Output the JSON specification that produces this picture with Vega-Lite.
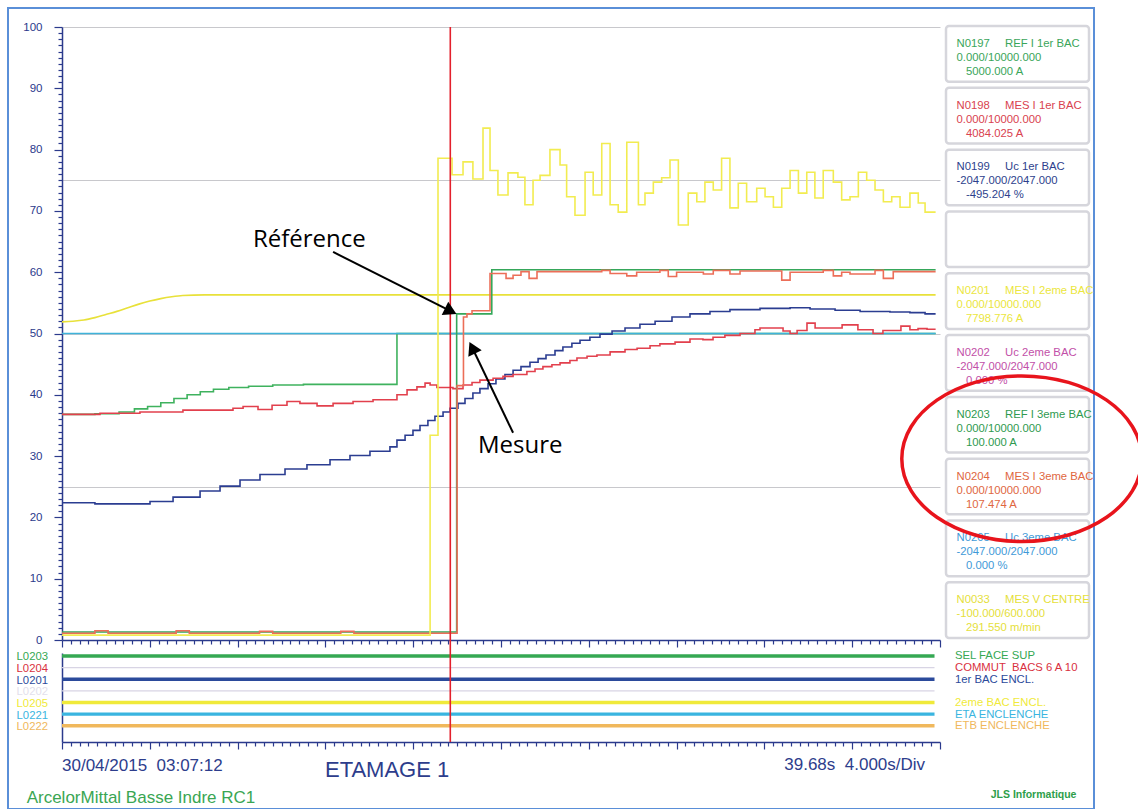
{
"$schema": "https://vega.github.io/schema/vega-lite/v6.json",
"width": 1086,
"height": 801,
"padding": {"left": 8, "top": 8, "right": 44, "bottom": 0},
"autosize": {"type": "none"},
"background": "white",
"config": {"view": {"stroke": "#5a8fd8", "strokeWidth": 2}, "font": "Liberation Sans"},
"datasets": {
"series": [
{"code":"N0033","t":0,"v":51.9},{"code":"N0033","t":0.5,"v":52.0},{"code":"N0033","t":1.0,"v":52.2},{"code":"N0033","t":1.5,"v":52.6},{"code":"N0033","t":2.0,"v":53.1},{"code":"N0033","t":2.5,"v":53.6},{"code":"N0033","t":3.0,"v":54.2},{"code":"N0033","t":3.5,"v":54.8},{"code":"N0033","t":4.0,"v":55.3},{"code":"N0033","t":4.5,"v":55.7},{"code":"N0033","t":5.0,"v":56.0},{"code":"N0033","t":5.5,"v":56.2},{"code":"N0033","t":6.5,"v":56.3},{"code":"N0033","t":39.8,"v":56.3},
{"code":"N0197","t":0,"v":36.8},{"code":"N0197","t":1.5,"v":36.9},{"code":"N0197","t":2.6,"v":37.2},{"code":"N0197","t":3.3,"v":37.7},{"code":"N0197","t":3.9,"v":38.1},{"code":"N0197","t":4.5,"v":38.7},{"code":"N0197","t":5.1,"v":39.4},{"code":"N0197","t":5.7,"v":40.0},{"code":"N0197","t":6.3,"v":40.5},{"code":"N0197","t":6.9,"v":40.9},{"code":"N0197","t":7.6,"v":41.2},{"code":"N0197","t":8.5,"v":41.4},{"code":"N0197","t":9.6,"v":41.6},{"code":"N0197","t":11.0,"v":41.7},{"code":"N0197","t":15.26,"v":50.0},{"code":"N0197","t":39.8,"v":50.0},
{"code":"N0205","t":0,"v":50.0},{"code":"N0205","t":39.8,"v":50.0},
{"code":"N0199","t":0,"v":22.4},{"code":"N0199","t":1.5,"v":22.2},{"code":"N0199","t":2.96,"v":22.2},{"code":"N0199","t":4.01,"v":22.6},{"code":"N0199","t":5.06,"v":23.3},{"code":"N0199","t":6.29,"v":24.3},{"code":"N0199","t":7.2,"v":25.1},{"code":"N0199","t":8.11,"v":26.1},{"code":"N0199","t":9.02,"v":27.0},{"code":"N0199","t":10.16,"v":27.9},{"code":"N0199","t":11.16,"v":28.6},{"code":"N0199","t":12.21,"v":29.4},{"code":"N0199","t":13.12,"v":30.1},{"code":"N0199","t":14.03,"v":30.8},{"code":"N0199","t":14.94,"v":31.5},{"code":"N0199","t":15.26,"v":32.6},{"code":"N0199","t":15.63,"v":33.4},{"code":"N0199","t":15.99,"v":34.2},{"code":"N0199","t":16.31,"v":35.0},{"code":"N0199","t":16.67,"v":35.8},{"code":"N0199","t":16.99,"v":36.5},{"code":"N0199","t":17.36,"v":37.2},{"code":"N0199","t":17.68,"v":37.8},{"code":"N0199","t":18.04,"v":38.6},{"code":"N0199","t":18.36,"v":39.4},{"code":"N0199","t":18.72,"v":40.3},{"code":"N0199","t":19.04,"v":41.0},{"code":"N0199","t":19.41,"v":41.8},{"code":"N0199","t":19.77,"v":42.6},{"code":"N0199","t":20.18,"v":43.3},{"code":"N0199","t":20.55,"v":44.0},{"code":"N0199","t":20.91,"v":44.6},{"code":"N0199","t":21.32,"v":45.3},{"code":"N0199","t":21.69,"v":45.9},{"code":"N0199","t":22.05,"v":46.5},{"code":"N0199","t":22.46,"v":47.2},{"code":"N0199","t":22.82,"v":47.8},{"code":"N0199","t":23.23,"v":48.4},{"code":"N0199","t":23.6,"v":48.9},{"code":"N0199","t":24.05,"v":49.4},{"code":"N0199","t":24.51,"v":49.9},{"code":"N0199","t":25.06,"v":50.4},{"code":"N0199","t":25.65,"v":50.9},{"code":"N0199","t":26.33,"v":51.5},{"code":"N0199","t":27.02,"v":52.0},{"code":"N0199","t":27.79,"v":52.7},{"code":"N0199","t":28.61,"v":53.2},{"code":"N0199","t":29.52,"v":53.6},{"code":"N0199","t":30.43,"v":53.9},{"code":"N0199","t":31.8,"v":54.1},{"code":"N0199","t":33.17,"v":54.2},{"code":"N0199","t":34.08,"v":54.0},{"code":"N0199","t":35.22,"v":53.8},{"code":"N0199","t":36.36,"v":53.6},{"code":"N0199","t":37.72,"v":53.5},{"code":"N0199","t":38.63,"v":53.4},{"code":"N0199","t":39.32,"v":53.2},{"code":"N0199","t":39.8,"v":53.2},
{"code":"N0198","t":0,"v":36.8},{"code":"N0198","t":1.73,"v":37.0},{"code":"N0198","t":3.55,"v":37.2},{"code":"N0198","t":5.51,"v":37.5},{"code":"N0198","t":7.79,"v":37.8},{"code":"N0198","t":8.25,"v":38.1},{"code":"N0198","t":8.93,"v":37.6},{"code":"N0198","t":9.57,"v":38.3},{"code":"N0198","t":10.25,"v":38.9},{"code":"N0198","t":10.84,"v":38.6},{"code":"N0198","t":11.62,"v":38.2},{"code":"N0198","t":12.35,"v":38.6},{"code":"N0198","t":13.26,"v":38.9},{"code":"N0198","t":14.17,"v":39.2},{"code":"N0198","t":15.26,"v":40.0},{"code":"N0198","t":15.72,"v":40.8},{"code":"N0198","t":16.17,"v":41.3},{"code":"N0198","t":16.54,"v":41.9},{"code":"N0198","t":16.77,"v":41.6},{"code":"N0198","t":17.08,"v":41.2},{"code":"N0198","t":17.81,"v":41.0},{"code":"N0198","t":18.27,"v":41.6},{"code":"N0198","t":18.68,"v":42.0},{"code":"N0198","t":19.04,"v":42.4},{"code":"N0198","t":19.64,"v":42.7},{"code":"N0198","t":20.09,"v":43.0},{"code":"N0198","t":20.55,"v":43.3},{"code":"N0198","t":21.18,"v":43.8},{"code":"N0198","t":21.55,"v":44.2},{"code":"N0198","t":21.91,"v":44.6},{"code":"N0198","t":22.32,"v":44.9},{"code":"N0198","t":22.69,"v":45.2},{"code":"N0198","t":23.14,"v":45.6},{"code":"N0198","t":23.46,"v":46.0},{"code":"N0198","t":23.92,"v":46.3},{"code":"N0198","t":24.37,"v":46.5},{"code":"N0198","t":24.97,"v":47.0},{"code":"N0198","t":25.65,"v":47.4},{"code":"N0198","t":26.2,"v":47.6},{"code":"N0198","t":26.79,"v":48.0},{"code":"N0198","t":27.24,"v":48.3},{"code":"N0198","t":27.93,"v":48.6},{"code":"N0198","t":28.61,"v":49.1},{"code":"N0198","t":29.2,"v":49.0},{"code":"N0198","t":29.66,"v":49.4},{"code":"N0198","t":30.2,"v":49.7},{"code":"N0198","t":30.89,"v":50.0},{"code":"N0198","t":31.57,"v":50.6},{"code":"N0198","t":31.8,"v":50.9},{"code":"N0198","t":32.85,"v":50.4},{"code":"N0198","t":33.17,"v":50.0},{"code":"N0198","t":33.49,"v":50.5},{"code":"N0198","t":33.94,"v":51.7},{"code":"N0198","t":34.31,"v":50.9},{"code":"N0198","t":35.54,"v":51.4},{"code":"N0198","t":36.26,"v":50.6},{"code":"N0198","t":36.95,"v":50.0},{"code":"N0198","t":37.4,"v":50.5},{"code":"N0198","t":38.22,"v":51.2},{"code":"N0198","t":38.63,"v":50.6},{"code":"N0198","t":39.0,"v":50.8},{"code":"N0198","t":39.41,"v":50.7},{"code":"N0198","t":39.8,"v":50.7},
{"code":"N0203","t":0,"v":1.3},{"code":"N0203","t":17.98,"v":53.2},{"code":"N0203","t":19.58,"v":60.4},{"code":"N0203","t":39.8,"v":60.4},
{"code":"N0204","t":0,"v":1.1},{"code":"N0204","t":1.5,"v":1.5},{"code":"N0204","t":2.1,"v":1.1},{"code":"N0204","t":5.2,"v":1.5},{"code":"N0204","t":5.8,"v":1.1},{"code":"N0204","t":9.0,"v":1.4},{"code":"N0204","t":9.6,"v":1.1},{"code":"N0204","t":12.7,"v":1.4},{"code":"N0204","t":13.3,"v":1.1},{"code":"N0204","t":18.0,"v":41.5},{"code":"N0204","t":18.29,"v":52.7},{"code":"N0204","t":18.45,"v":53.2},{"code":"N0204","t":18.68,"v":53.7},{"code":"N0204","t":19.5,"v":59.8},{"code":"N0204","t":20.23,"v":59.0},{"code":"N0204","t":20.55,"v":59.5},{"code":"N0204","t":20.91,"v":60.1},{"code":"N0204","t":21.28,"v":59.0},{"code":"N0204","t":21.64,"v":60.1},{"code":"N0204","t":24.59,"v":60.3},{"code":"N0204","t":24.97,"v":59.8},{"code":"N0204","t":25.73,"v":59.4},{"code":"N0204","t":26.18,"v":60.0},{"code":"N0204","t":27.24,"v":60.3},{"code":"N0204","t":27.62,"v":59.3},{"code":"N0204","t":28.0,"v":60.0},{"code":"N0204","t":29.22,"v":59.7},{"code":"N0204","t":29.67,"v":60.3},{"code":"N0204","t":30.43,"v":59.7},{"code":"N0204","t":30.89,"v":60.2},{"code":"N0204","t":32.79,"v":58.7},{"code":"N0204","t":33.17,"v":60.0},{"code":"N0204","t":34.68,"v":60.3},{"code":"N0204","t":35.14,"v":59.4},{"code":"N0204","t":35.52,"v":60.0},{"code":"N0204","t":35.9,"v":59.7},{"code":"N0204","t":37.04,"v":60.3},{"code":"N0204","t":37.42,"v":59.0},{"code":"N0204","t":37.87,"v":60.1},{"code":"N0204","t":39.8,"v":60.1},
{"code":"N0201","t":0,"v":0.8},{"code":"N0201","t":16.77,"v":33.4},{"code":"N0201","t":17.13,"v":78.6},{"code":"N0201","t":17.77,"v":75.9},{"code":"N0201","t":18.27,"v":78.0},{"code":"N0201","t":18.72,"v":75.2},{"code":"N0201","t":19.18,"v":83.5},{"code":"N0201","t":19.5,"v":76.6},{"code":"N0201","t":19.86,"v":72.6},{"code":"N0201","t":20.32,"v":76.2},{"code":"N0201","t":20.77,"v":75.5},{"code":"N0201","t":21.09,"v":71.0},{"code":"N0201","t":21.46,"v":75.0},{"code":"N0201","t":21.78,"v":75.8},{"code":"N0201","t":22.23,"v":80.0},{"code":"N0201","t":22.69,"v":77.5},{"code":"N0201","t":22.99,"v":72.3},{"code":"N0201","t":23.37,"v":69.3},{"code":"N0201","t":23.83,"v":76.3},{"code":"N0201","t":24.2,"v":72.6},{"code":"N0201","t":24.59,"v":81.0},{"code":"N0201","t":24.97,"v":71.0},{"code":"N0201","t":25.34,"v":69.8},{"code":"N0201","t":25.73,"v":81.2},{"code":"N0201","t":26.26,"v":71.0},{"code":"N0201","t":26.56,"v":72.9},{"code":"N0201","t":26.94,"v":74.7},{"code":"N0201","t":27.32,"v":75.4},{"code":"N0201","t":27.7,"v":78.3},{"code":"N0201","t":28.08,"v":67.7},{"code":"N0201","t":28.53,"v":72.9},{"code":"N0201","t":28.92,"v":71.5},{"code":"N0201","t":29.29,"v":74.7},{"code":"N0201","t":29.67,"v":73.4},{"code":"N0201","t":30.05,"v":78.6},{"code":"N0201","t":30.43,"v":70.5},{"code":"N0201","t":30.81,"v":74.5},{"code":"N0201","t":31.19,"v":71.5},{"code":"N0201","t":31.65,"v":73.7},{"code":"N0201","t":32.03,"v":72.3},{"code":"N0201","t":32.41,"v":70.6},{"code":"N0201","t":32.79,"v":73.7},{"code":"N0201","t":33.17,"v":76.6},{"code":"N0201","t":33.55,"v":72.9},{"code":"N0201","t":33.93,"v":76.3},{"code":"N0201","t":34.3,"v":72.1},{"code":"N0201","t":34.68,"v":76.6},{"code":"N0201","t":35.14,"v":74.7},{"code":"N0201","t":35.52,"v":71.8},{"code":"N0201","t":35.9,"v":72.3},{"code":"N0201","t":36.28,"v":76.3},{"code":"N0201","t":36.66,"v":75.0},{"code":"N0201","t":37.04,"v":73.4},{"code":"N0201","t":37.42,"v":71.5},{"code":"N0201","t":37.8,"v":72.3},{"code":"N0201","t":38.18,"v":70.6},{"code":"N0201","t":38.63,"v":72.9},{"code":"N0201","t":39.01,"v":71.3},{"code":"N0201","t":39.32,"v":69.8},{"code":"N0201","t":39.8,"v":69.8}
],
"digital": [
{"code":"L0203","state":"ON","t0":0,"t1":39.75,"desc":"SEL FACE SUP"},
{"code":"L0204","state":"OFF","t0":0,"t1":39.75,"desc":"COMMUT\u00a0\u00a0BACS 6 A 10"},
{"code":"L0201","state":"ON","t0":0,"t1":39.75,"desc":"1er BAC ENCL."},
{"code":"L0202","state":"OFF","t0":0,"t1":39.75,"desc":""},
{"code":"L0205","state":"ON","t0":0,"t1":39.75,"desc":"2eme BAC ENCL."},
{"code":"L0221","state":"ON","t0":0,"t1":39.75,"desc":"ETA ENCLENCHE"},
{"code":"L0222","state":"ON","t0":0,"t1":39.75,"desc":"ETB ENCLENCHE"}
],
"panel": [
{"code":"N0197","id":"N0197","name":"REF I 1er BAC","range":"0.000/10000.000","value":"5000.000 A"},
{"code":"N0198","id":"N0198","name":"MES I 1er BAC","range":"0.000/10000.000","value":"4084.025 A"},
{"code":"N0199","id":"N0199","name":"Uc 1er BAC","range":"-2047.000/2047.000","value":"-495.204 %"},
{"code":"N0200","id":"","name":"","range":"","value":""},
{"code":"N0201","id":"N0201","name":"MES I 2eme BAC","range":"0.000/10000.000","value":"7798.776 A"},
{"code":"N0202","id":"N0202","name":"Uc 2eme BAC","range":"-2047.000/2047.000","value":"0.000 %"},
{"code":"N0203","id":"N0203","name":"REF I 3eme BAC","range":"0.000/10000.000","value":"100.000 A"},
{"code":"N0204","id":"N0204","name":"MES I 3eme BAC","range":"0.000/10000.000","value":"107.474 A"},
{"code":"N0205","id":"N0205","name":"Uc 3eme BAC","range":"-2047.000/2047.000","value":"0.000 %"},
{"code":"N0033","id":"N0033","name":"MES V CENTRE","range":"-100.000/600.000","value":"291.550 m/min"}
],
"cursor": [{"t": 17.69}],
"notes": [
{"label":"Référence","t":8.70,"v":64.1,"t_from":12.35,"v_from":63.3,"t_to":17.71,"v_to":53.64},
{"label":"Mesure","t":18.95,"v":30.5,"t_from":20.55,"v_from":33.8,"t_to":18.69,"v_to":47.67}
],
"footer": [
{"kind":"date","label":"30/04/2015\u00a0\u00a003:07:12"},
{"kind":"title","label":"ETAMAGE 1"},
{"kind":"scale","label":"39.68s\u00a0\u00a04.000s/Div"},
{"kind":"company","label":"ArcelorMittal Basse Indre RC1"},
{"kind":"vendor","label":"JLS Informatique"}
]
},
"layer": [
{
"data": {"name": "series"},
"layer": [
{
"transform": [{"filter": "datum.code === 'N0033'"}],
"mark": {"type": "line", "strokeWidth": 1.7, "interpolate": "monotone"},
"encoding": {
"x": {"field": "t", "type": "quantitative", "scale": {"domain": [0, 40], "range": [54, 932], "nice": false, "zero": false},
"axis": {"orient": "bottom", "offset": -169, "values": [0,0.4,0.8,1.2,1.6,2,2.4,2.8,3.2,3.6,4,4.4,4.8,5.2,5.6,6,6.4,6.8,7.2,7.6,8,8.4,8.8,9.2,9.6,10,10.4,10.8,11.2,11.6,12,12.4,12.8,13.2,13.6,14,14.4,14.8,15.2,15.6,16,16.4,16.8,17.2,17.6,18,18.4,18.8,19.2,19.6,20,20.4,20.8,21.2,21.6,22,22.4,22.8,23.2,23.6,24,24.4,24.8,25.2,25.6,26,26.4,26.8,27.2,27.6,28,28.4,28.8,29.2,29.6,30,30.4,30.8,31.2,31.6,32,32.4,32.8,33.2,33.6,34,34.4,34.8,35.2,35.6,36,36.4,36.8,37.2,37.6,38,38.4,38.8,39.2,39.6,40], "labels": false, "title": null, "grid": false, "domainColor": "#2b3a8c", "domainWidth": 1.5, "tickColor": "#2b3a8c", "tickWidth": 1.2, "tickSize": {"condition": {"test": "abs(datum.value / 4 - round(datum.value / 4)) < 0.01", "value": 7}, "value": 4}}},
"y": {"field": "v", "type": "quantitative", "scale": {"domain": [0, 100], "range": [632, 19], "nice": false, "zero": false},
"axis": {"orient": "left", "offset": -54, "values": [0,1,2,3,4,5,6,7,8,9,10,11,12,13,14,15,16,17,18,19,20,21,22,23,24,25,26,27,28,29,30,31,32,33,34,35,36,37,38,39,40,41,42,43,44,45,46,47,48,49,50,51,52,53,54,55,56,57,58,59,60,61,62,63,64,65,66,67,68,69,70,71,72,73,74,75,76,77,78,79,80,81,82,83,84,85,86,87,88,89,90,91,92,93,94,95,96,97,98,99,100], "title": null, "labelExpr": "datum.value % 10 === 0 ? datum.label : ''", "labelOverlap": false, "labelBound": false, "labelFont": "Liberation Sans", "labelFontSize": 11.5, "labelColor": "#2b3a8c", "labelPadding": 12, "domainColor": "#2b3a8c", "domainWidth": 1.5, "tickColor": "#2b3a8c", "tickWidth": 1.2, "tickSize": {"condition": {"test": "datum.value % 10 === 0", "value": 8}, "value": 4}, "grid": true, "gridColor": "#c8c8cc", "gridWidth": 1, "gridOpacity": {"condition": {"test": "datum.value % 25 === 0 && datum.value > 0", "value": 1}, "value": 0}}},
"color": {"field": "code", "type": "nominal", "scale": {"domain": ["N0033","N0197","N0205","N0199","N0198","N0203","N0204","N0201"], "range": ["#e8e13a","#3fb25e","#3fb3da","#2b3d91","#e2404d","#35a75a","#ec6e58","#f2ec50"]}, "legend": null}
}
},
{
"transform": [{"filter": "datum.code !== 'N0033'"}],
"mark": {"type": "line", "strokeWidth": 1.6, "interpolate": "step-after"},
"encoding": {
"x": {"field": "t", "type": "quantitative", "scale": {"domain": [0, 40], "range": [54, 932], "nice": false, "zero": false}, "axis": null},
"y": {"field": "v", "type": "quantitative", "scale": {"domain": [0, 100], "range": [632, 19], "nice": false, "zero": false}, "axis": null},
"color": {"field": "code", "type": "nominal", "scale": {"domain": ["N0033","N0197","N0205","N0199","N0198","N0203","N0204","N0201"], "range": ["#e8e13a","#3fb25e","#3fb3da","#2b3d91","#e2404d","#35a75a","#ec6e58","#f2ec50"]}, "legend": null}
}
}
],
"resolve": {"axis": {"x": "independent", "y": "independent"}}
},
{
"data": {"name": "digital"},
"layer": [
{
"transform": [{"filter": "datum.state === 'OFF'"}],
"mark": {"type": "rule", "color": "#d8d4e4", "strokeWidth": 1.3},
"encoding": {
"x": {"field": "t0", "type": "quantitative", "scale": {"domain": [0, 40], "range": [54, 932], "nice": false, "zero": false},
"axis": {"orient": "bottom", "offset": -67, "values": [0,0.4,0.8,1.2,1.6,2,2.4,2.8,3.2,3.6,4,4.4,4.8,5.2,5.6,6,6.4,6.8,7.2,7.6,8,8.4,8.8,9.2,9.6,10,10.4,10.8,11.2,11.6,12,12.4,12.8,13.2,13.6,14,14.4,14.8,15.2,15.6,16,16.4,16.8,17.2,17.6,18,18.4,18.8,19.2,19.6,20,20.4,20.8,21.2,21.6,22,22.4,22.8,23.2,23.6,24,24.4,24.8,25.2,25.6,26,26.4,26.8,27.2,27.6,28,28.4,28.8,29.2,29.6,30,30.4,30.8,31.2,31.6,32,32.4,32.8,33.2,33.6,34,34.4,34.8,35.2,35.6,36,36.4,36.8,37.2,37.6,38,38.4,38.8,39.2,39.6,40], "labels": false, "title": null, "grid": false, "domainColor": "#2b3a8c", "domainWidth": 1.5, "tickColor": "#2b3a8c", "tickWidth": 1.2, "tickSize": {"condition": {"test": "abs(datum.value / 4 - round(datum.value / 4)) < 0.01", "value": 7}, "value": 4}}},
"x2": {"field": "t1"},
"y": {"field": "code", "type": "nominal", "scale": {"type": "point", "domain": ["L0203","L0204","L0201","L0202","L0205","L0221","L0222"], "range": [645, 734], "padding": 0.83, "align": 0.155},
"axis": {"orient": "left", "offset": -54, "labels": false, "ticks": false, "title": null, "grid": false, "domainColor": "#2b3a8c", "domainWidth": 1.5}}
}
},
{
"transform": [{"filter": "datum.state === 'ON'"}],
"mark": {"type": "rule", "strokeWidth": 3.4},
"encoding": {
"x": {"field": "t0", "type": "quantitative", "scale": {"domain": [0, 40], "range": [54, 932], "nice": false, "zero": false}, "axis": null},
"x2": {"field": "t1"},
"y": {"field": "code", "type": "nominal", "scale": {"type": "point", "domain": ["L0203","L0204","L0201","L0202","L0205","L0221","L0222"], "range": [645, 734], "padding": 0.83, "align": 0.155}, "axis": null},
"color": {"field": "code", "type": "nominal", "scale": {"domain": ["L0203","L0204","L0201","L0202","L0205","L0221","L0222"], "range": ["#35a853","#d9303e","#2b4a9b","#e3dfec","#f0ea3a","#3ab5e0","#f0b85c"]}, "legend": null}
}
},
{
"mark": {"type": "text", "align": "right", "baseline": "middle", "dx": -14, "dy": 1.5, "font": "Liberation Sans", "fontSize": 11.3},
"encoding": {
"x": {"field": "t0", "type": "quantitative", "scale": {"domain": [0, 40], "range": [54, 932], "nice": false, "zero": false}, "axis": null},
"y": {"field": "code", "type": "nominal", "scale": {"type": "point", "domain": ["L0203","L0204","L0201","L0202","L0205","L0221","L0222"], "range": [645, 734], "padding": 0.83, "align": 0.155}, "axis": null},
"text": {"field": "code"},
"color": {"field": "code", "type": "nominal", "scale": {"domain": ["L0203","L0204","L0201","L0202","L0205","L0221","L0222"], "range": ["#35a853","#d9303e","#2b4a9b","#e3dfec","#f0ea3a","#3ab5e0","#f0b85c"]}, "legend": null}
}
},
{
"mark": {"type": "text", "align": "left", "baseline": "middle", "dx": 20.5, "dy": 0.5, "font": "Liberation Sans", "fontSize": 11.3},
"encoding": {
"x": {"field": "t1", "type": "quantitative", "scale": {"domain": [0, 40], "range": [54, 932], "nice": false, "zero": false}, "axis": null},
"y": {"field": "code", "type": "nominal", "scale": {"type": "point", "domain": ["L0203","L0204","L0201","L0202","L0205","L0221","L0222"], "range": [645, 734], "padding": 0.83, "align": 0.155}, "axis": null},
"text": {"field": "desc"},
"color": {"field": "code", "type": "nominal", "scale": {"domain": ["L0203","L0204","L0201","L0202","L0205","L0221","L0222"], "range": ["#35a853","#d9303e","#2b4a9b","#e3dfec","#f0ea3a","#3ab5e0","#f0b85c"]}, "legend": null}
}
}
],
"resolve": {"axis": {"x": "independent", "y": "independent"}}
},
{
"data": {"name": "panel"},
"layer": [
{
"mark": {"type": "rect", "fill": "white", "stroke": "#d6d6dc", "strokeWidth": 2.5, "cornerRadius": 3},
"encoding": {
"x": {"datum": "box", "type": "nominal", "scale": {"domain": ["box"], "range": [938, 1081], "paddingInner": 0, "paddingOuter": 0}, "axis": null},
"y": {"field": "code", "type": "nominal", "scale": {"domain": ["N0197","N0198","N0199","N0200","N0201","N0202","N0203","N0204","N0205","N0033"], "range": [18, 630], "paddingInner": 0.1, "paddingOuter": 0}, "axis": null}
}
},
{
"mark": {"type": "text", "align": "left", "baseline": "middle", "dx": 10.5, "dy": -10, "font": "Liberation Sans", "fontSize": 11.3},
"encoding": {
"x": {"datum": "box", "type": "nominal", "bandPosition": 0, "scale": {"domain": ["box"], "range": [938, 1081], "paddingInner": 0, "paddingOuter": 0}, "axis": null},
"y": {"field": "code", "type": "nominal", "axis": null},
"text": {"field": "id"},
"color": {"field": "code", "type": "nominal", "scale": {"domain": ["N0197","N0198","N0199","N0200","N0201","N0202","N0203","N0204","N0205","N0033"], "range": ["#3aa55a","#d9424f","#2e3f8d","#999999","#ebe640","#c24fa8","#2f9a50","#e0673f","#3f9ad8","#e5e03a"]}, "legend": null}
}
},
{
"mark": {"type": "text", "align": "left", "baseline": "middle", "dx": 59, "dy": -10, "font": "Liberation Sans", "fontSize": 11.3},
"encoding": {
"x": {"datum": "box", "type": "nominal", "bandPosition": 0, "axis": null},
"y": {"field": "code", "type": "nominal", "axis": null},
"text": {"field": "name"},
"color": {"field": "code", "type": "nominal", "legend": null}
}
},
{
"mark": {"type": "text", "align": "left", "baseline": "middle", "dx": 10.5, "dy": 4, "font": "Liberation Sans", "fontSize": 11.3},
"encoding": {
"x": {"datum": "box", "type": "nominal", "bandPosition": 0, "axis": null},
"y": {"field": "code", "type": "nominal", "axis": null},
"text": {"field": "range"},
"color": {"field": "code", "type": "nominal", "legend": null}
}
},
{
"mark": {"type": "text", "align": "left", "baseline": "middle", "dx": 20, "dy": 18, "font": "Liberation Sans", "fontSize": 11.3},
"encoding": {
"x": {"datum": "box", "type": "nominal", "bandPosition": 0, "axis": null},
"y": {"field": "code", "type": "nominal", "axis": null},
"text": {"field": "value"},
"color": {"field": "code", "type": "nominal", "legend": null}
}
},
{
"transform": [{"filter": "datum.code === 'N0204'"}],
"mark": {"type": "point", "filled": false, "shape": "M -1 0 A 1 0.69 0 1 0 1 0 A 1 0.69 0 1 0 -1 0 Z", "size": 57600, "stroke": "#e8141c", "strokeWidth": 3.5, "opacity": 1},
"encoding": {
"x": {"datum": "box", "type": "nominal", "bandPosition": 0.53, "axis": null},
"y": {"field": "code", "type": "nominal", "bandPosition": 0, "axis": null}
}
}
]
},
{
"data": {"name": "footer"},
"layer": [
{
"transform": [{"filter": "datum.kind === 'date'"}],
"mark": {"type": "text", "align": "left", "baseline": "alphabetic", "font": "Liberation Sans", "fontSize": 17, "color": "#2d3d8c"},
"encoding": {
"x": {"datum": 0, "type": "quantitative", "scale": {"domain": [0, 40], "range": [54, 932], "nice": false, "zero": false}, "axis": null},
"y": {"datum": "info", "type": "nominal", "scale": {"type": "point", "domain": ["info", "credit"], "range": [763, 795], "padding": 0}, "axis": null},
"text": {"field": "label"}
}
},
{
"transform": [{"filter": "datum.kind === 'title'"}],
"mark": {"type": "text", "align": "left", "baseline": "alphabetic", "dy": 6, "font": "Liberation Sans", "fontSize": 22, "color": "#2d3d8c"},
"encoding": {
"x": {"datum": 11.98, "type": "quantitative", "axis": null},
"y": {"datum": "info", "type": "nominal", "axis": null},
"text": {"field": "label"}
}
},
{
"transform": [{"filter": "datum.kind === 'scale'"}],
"mark": {"type": "text", "align": "right", "baseline": "alphabetic", "dy": -1, "font": "Liberation Sans", "fontSize": 17, "color": "#2d3d8c"},
"encoding": {
"x": {"datum": 39.32, "type": "quantitative", "axis": null},
"y": {"datum": "info", "type": "nominal", "axis": null},
"text": {"field": "label"}
}
},
{
"transform": [{"filter": "datum.kind === 'company'"}],
"mark": {"type": "text", "align": "left", "baseline": "alphabetic", "font": "Liberation Sans", "fontSize": 17, "color": "#3aa653"},
"encoding": {
"x": {"datum": -1.61, "type": "quantitative", "axis": null},
"y": {"datum": "credit", "type": "nominal", "axis": null},
"text": {"field": "label"}
}
},
{
"transform": [{"filter": "datum.kind === 'vendor'"}],
"mark": {"type": "text", "align": "left", "baseline": "alphabetic", "dy": -5, "font": "Liberation Sans", "fontSize": 10.5, "fontWeight": "bold", "color": "#2e9e4a"},
"encoding": {
"x": {"datum": 42.31, "type": "quantitative", "axis": null},
"y": {"datum": "credit", "type": "nominal", "axis": null},
"text": {"field": "label"}
}
}
]
},
{
"layer": [
{
"data": {"name": "cursor"},
"mark": {"type": "rule", "color": "#e3202c", "strokeWidth": 1.6},
"encoding": {
"x": {"field": "t", "type": "quantitative", "scale": {"domain": [0, 40], "range": [54, 932], "nice": false, "zero": false}, "axis": null},
"y": {"datum": 100, "type": "quantitative", "scale": {"domain": [0, 100], "range": [632, 19], "nice": false, "zero": false}, "axis": null},
"y2": {"datum": -16.64}
}
},
{
"data": {"name": "notes"},
"mark": {"type": "rule", "color": "black", "strokeWidth": 2},
"encoding": {
"x": {"field": "t_from", "type": "quantitative", "axis": null},
"y": {"field": "v_from", "type": "quantitative", "axis": null},
"x2": {"field": "t_to"},
"y2": {"field": "v_to"}
}
},
{
"data": {"name": "notes"},
"transform": [{"filter": "datum.label === 'Référence'"}],
"mark": {"type": "point", "shape": "triangle-up", "filled": true, "color": "black", "opacity": 1, "size": 220, "angle": 116.3},
"encoding": {
"x": {"field": "t_to", "type": "quantitative", "axis": null},
"y": {"field": "v_to", "type": "quantitative", "axis": null}
}
},
{
"data": {"name": "notes"},
"transform": [{"filter": "datum.label === 'Mesure'"}],
"mark": {"type": "point", "shape": "triangle-up", "filled": true, "color": "black", "opacity": 1, "size": 220, "angle": -25.6},
"encoding": {
"x": {"field": "t_to", "type": "quantitative", "axis": null},
"y": {"field": "v_to", "type": "quantitative", "axis": null}
}
},
{
"data": {"name": "notes"},
"mark": {"type": "text", "align": "left", "baseline": "alphabetic", "font": "Open Sans", "fontSize": 24, "color": "black"},
"encoding": {
"x": {"field": "t", "type": "quantitative", "axis": null},
"y": {"field": "v", "type": "quantitative", "axis": null},
"text": {"field": "label"}
}
}
]
}
],
"resolve": {"scale": {"x": "independent", "y": "independent", "color": "independent"}, "axis": {"x": "independent", "y": "independent"}}
}
